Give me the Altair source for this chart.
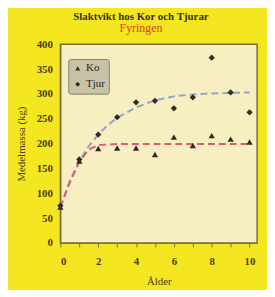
import altair as alt
import pandas as pd

ages = [0, 1, 2, 3, 4, 5, 6, 7, 8, 9, 10]
ko = [72, 165, 190, 191, 191, 178, 213, 196, 216, 209, 203]
tjur = [75, 168, 218, 253, 283, 286, 271, 293, 373, 303, 263]

tjur_fit_x = [0, 0.5, 1, 1.5, 2, 2.5, 3, 4, 5, 6, 7, 8, 9, 10]
tjur_fit_y = [72, 125, 165, 195, 218, 237, 252, 273, 287, 295, 299, 301, 302, 303]
ko_fit_x = [0, 0.5, 1, 1.5, 2, 3, 10]
ko_fit_y = [72, 122, 163, 188, 197, 199, 199]

groups = ["Ko", "Tjur"]

pts = pd.DataFrame({
    "Ålder": ages + ages,
    "Massa": ko + tjur,
    "Kön": ["Ko"] * len(ages) + ["Tjur"] * len(ages),
})
fit_t = pd.DataFrame({"Ålder": tjur_fit_x, "Massa": tjur_fit_y})
fit_k = pd.DataFrame({"Ålder": ko_fit_x, "Massa": ko_fit_y})

FONT = "Liberation Serif"
TXT = "#4a3c10"

xs = alt.X("Ålder:Q", title="Ålder",
           scale=alt.Scale(domain=[0, 10.4], nice=False),
           axis=alt.Axis(values=list(range(0, 11)),
                         labelExpr="datum.value % 2 == 0 ? datum.label : ''",
                         grid=False, tickSize=4, labelPadding=9, titlePadding=9))
ys = alt.Y("Massa:Q", title="Medelmassa (kg)",
           scale=alt.Scale(domain=[0, 400], nice=False),
           axis=alt.Axis(values=list(range(0, 401, 50)), grid=False,
                         tickSize=0, labelPadding=8, titlePadding=10))

line_t = alt.Chart(fit_t).mark_line(color="#8ea4c8", strokeWidth=2,
                                    strokeDash=[7, 4]).encode(x=xs, y=ys)
line_k = alt.Chart(fit_k).mark_line(color="#d8606e", strokeWidth=2,
                                    strokeDash=[7, 4]).encode(x=xs, y=ys)

points = alt.Chart(pts).mark_point(filled=True, size=40, opacity=1,
                                   color="#2e2a26").encode(
    x=xs, y=ys,
    shape=alt.Shape("Kön:N",
                    scale=alt.Scale(domain=groups, range=["triangle-up", "diamond"]),
                    legend=alt.Legend(title=None, orient="none", legendX=8, legendY=15,
                                      fillColor="#c8c2a6", strokeColor="#85806c",
                                      padding=4, cornerRadius=2, symbolSize=24,
                                      symbolFillColor="#2e2a26", symbolStrokeColor="#2e2a26",
                                      labelFont=FONT, labelFontSize=11, labelColor="#2a2418",
                                      labelOffset=3, rowPadding=4)),
)

chart = alt.layer(line_t, line_k, points).properties(
    width=199, height=201,
    autosize=alt.AutoSizeParams(type="none"),
    padding={"left": 53, "top": 35, "right": 10, "bottom": 46},
    background="#f4e620",
    title=alt.TitleParams(text="Slaktvikt hos Kor och Tjurar", subtitle="Fyringen",
                          anchor="middle", dx=-18, offset=4,
                          font=FONT, fontSize=11, fontWeight="bold", color="#3a3010",
                          subtitleFont=FONT, subtitleFontSize=12, subtitleColor="#e23c18",
                          subtitlePadding=2),
).configure_view(
    fill="#f7eec2", stroke="#77703e", strokeWidth=1.5
).configure_axis(
    labelFont=FONT, labelFontSize=11, labelFontWeight="bold", labelColor=TXT,
    titleFont=FONT, titleFontSize=11, titleFontWeight="normal", titleColor=TXT,
    domainColor="#77703e", tickColor="#77703e"
)

chart.save("out.html", embed_options={"renderer": "svg", "actions": False})
